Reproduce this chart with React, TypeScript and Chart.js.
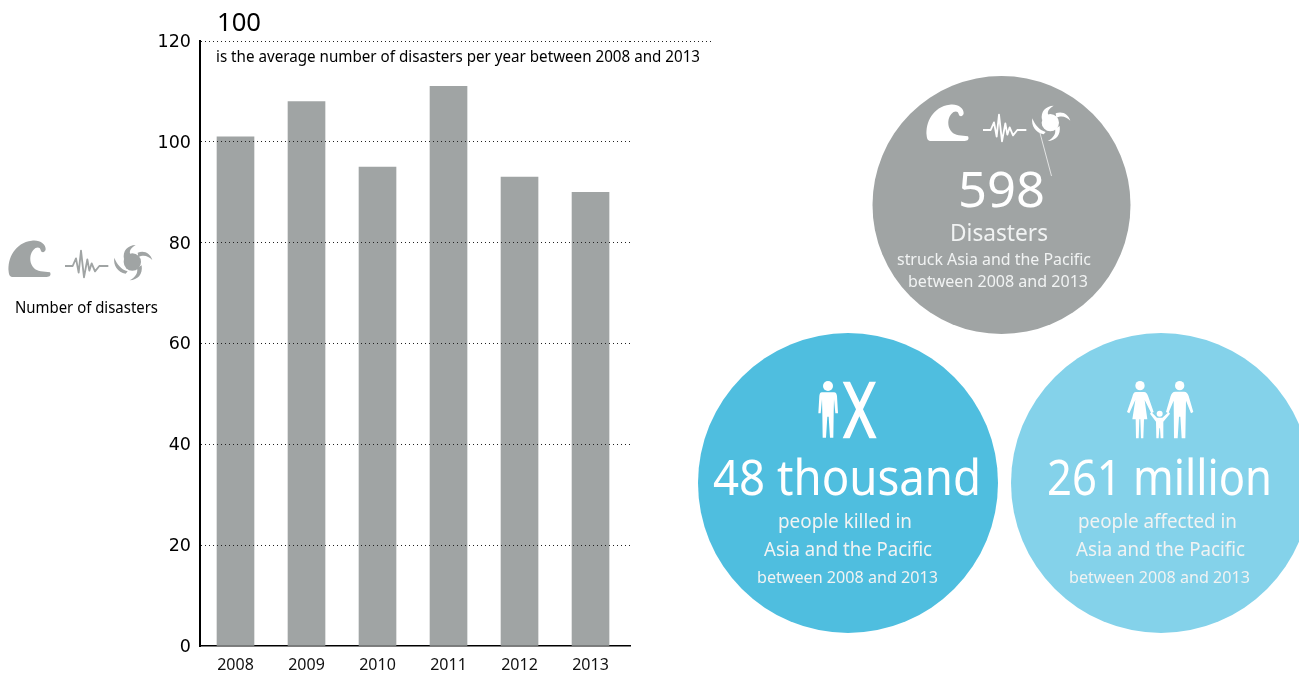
import React, { useEffect, useRef } from "react";
import { Chart, registerables } from "chart.js";

Chart.register(...registerables);

const years = [2008, 2009, 2010, 2011, 2012, 2013];
const disasters = [101, 108, 95, 111, 93, 90];
const yTicks = [0, 20, 40, 60, 80, 100, 120];

const GREY = "#a0a4a4";
const BLUE = "#4fbedf";
const LIGHT_BLUE = "#84d2ea";
const SOFT_WHITE = "#f1f3f3";
const DOT_COLOR = "#222";
const TEXT_FONT = '"Noto Sans"';

type Ctx = CanvasRenderingContext2D;

// Text fitted between two x positions, stretched or squeezed to the width.
function fitted(ctx: Ctx, text: string, left: number, right: number, baseline: number, size: number, color: string) {
  ctx.save();
  ctx.font = `${size}px ${TEXT_FONT}`;
  ctx.fillStyle = color;
  ctx.textAlign = "left";
  ctx.textBaseline = "alphabetic";
  const measured = ctx.measureText(text).width;
  ctx.translate(left, baseline);
  ctx.scale((right - left) / measured, 1);
  ctx.fillText(text, 0, 0);
  ctx.restore();
}

function disc(ctx: Ctx, cx: number, cy: number, r: number, color: string) {
  ctx.beginPath();
  ctx.arc(cx, cy, r, 0, Math.PI * 2);
  ctx.fillStyle = color;
  ctx.fill();
}

// Pictograms are sketched on a grid three times finer than the canvas.
function onGrid(ctx: Ctx, ox: number, oy: number, color: string, paint: () => void) {
  ctx.save();
  ctx.translate(ox, oy);
  ctx.scale(1 / 3, 1 / 3);
  ctx.fillStyle = color;
  ctx.strokeStyle = color;
  paint();
  ctx.restore();
}

function wave(ctx: Ctx) {
  ctx.fill(new Path2D(
    "M26,125 C22,85 45,38 95,32 C118,28 138,42 137,58 C136,68 124,70 122,60 C120,50 108,50 100,60 C84,78 88,118 122,124 L150,127 C154,135 150,141 140,141 L40,141 C30,141 27,135 26,125 Z"
  ));
}

function tremor(ctx: Ctx) {
  ctx.lineWidth = 5.5;
  ctx.lineJoin = "round";
  ctx.stroke(new Path2D(
    "M195,108 L218,108 L228,85 L236,128 L243,62 L252,142 L262,88 L268,122 L275,100 L285,124 L298,108 L325,108"
  ));
}

function cyclone(ctx: Ctx) {
  ctx.save();
  ctx.translate(315, 18);
  ctx.beginPath();
  ctx.arc(82, 78, 26, 0, Math.PI * 2);
  ctx.fill();
  ctx.fill(new Path2D("M92,27 C68,28 52,44 57,70 L78,58 C70,48 76,36 92,27 Z"));
  ctx.fill(new Path2D("M142,72 C136,52 118,42 98,50 L100,64 C115,55 130,60 142,72 Z"));
  ctx.fill(new Path2D("M74,133 C98,132 114,116 110,88 L96,96 C100,112 90,124 74,133 Z"));
  ctx.fill(new Path2D("M28,65 C24,88 38,108 62,113 L68,106 C48,100 36,85 28,65 Z"));
  ctx.restore();
}

function head(ctx: Ctx, x: number, y: number, r: number) {
  ctx.beginPath();
  ctx.arc(x, y, r, 0, Math.PI * 2);
  ctx.fill();
}

function adultFigure(ctx: Ctx) {
  head(ctx, 114, 48, 15);
  ctx.fill(new Path2D(
    "M96,67 L132,67 C138,67 140,72 141,78 L144,130 L136,130 L132,88 L131,132 L130,203 L120,203 L116,140 L112,140 L108,203 L98,203 L97,132 L96,88 L92,130 L85,130 L88,78 C89,72 90,67 96,67 Z"
  ));
}

function crossMark(ctx: Ctx) {
  ctx.fill(new Path2D(
    "M158,35 L180,35 L209,97 L238,35 L258,35 L219,118 L260,205 L238,205 L208,139 L179,205 L158,205 L198,118 Z"
  ));
}

function family(ctx: Ctx) {
  // mother
  head(ctx, 90, 47, 14);
  ctx.fill(new Path2D(
    "M78,66 L102,66 C108,66 112,72 115,80 L131,126 L124,130 L104,90 L112,148 L102,148 L100,205 L93,205 L91,148 L88,148 L86,205 L78,205 L77,148 L67,148 L76,90 L58,130 L51,126 L67,80 C69,72 72,66 78,66 Z"
  ));
  // father
  head(ctx, 209, 47, 14);
  ctx.fill(new Path2D(
    "M196,65 L222,65 C230,65 233,70 236,78 L250,126 L243,130 L228,92 L226,205 L215,205 L211,140 L207,140 L203,205 L192,205 L191,92 L175,130 L168,126 L182,78 C185,70 188,65 196,65 Z"
  ));
  // child, hand in hand
  head(ctx, 149, 131, 9);
  ctx.fill(new Path2D(
    "M141,143 L157,143 L176,126 L180,131 L160,155 L160,205 L152,205 L150,175 L148,175 L146,205 L139,205 L138,155 L120,131 L124,126 Z"
  ));
}

const artwork = {
  id: "artwork",
  afterDraw(chart: Chart) {
    const ctx = chart.ctx;
    const y = chart.scales.y;
    const top = y.getPixelForValue(120);

    // The top gridline runs on under the average note.
    ctx.save();
    ctx.strokeStyle = DOT_COLOR;
    ctx.lineWidth = 1;
    ctx.setLineDash([1, 3]);
    ctx.beginPath();
    ctx.moveTo(630, Math.round(top) + 0.5);
    ctx.lineTo(712, Math.round(top) + 0.5);
    ctx.stroke();
    ctx.restore();

    fitted(ctx, "100", 217, 261, 31, 26, "#000");
    fitted(ctx, "is the average number of disasters per year between 2008 and 2013", 216, 700, 62, 16, "#000");

    // Axis caption with its hazard icons
    onGrid(ctx, 0, 230, GREY, () => {
      wave(ctx);
      tremor(ctx);
      cyclone(ctx);
    });
    fitted(ctx, "Number of disasters", 15, 158, 313, 16, "#000");

    // Total disasters
    disc(ctx, 1001.5, 205, 129, GREY);
    onGrid(ctx, 918, 94, "#fff", () => {
      wave(ctx);
      tremor(ctx);
    });
    onGrid(ctx, 918, 90.7, "#fff", () => cyclone(ctx));
    ctx.save();
    ctx.strokeStyle = "#fff";
    ctx.lineWidth = 0.7;
    ctx.beginPath();
    ctx.moveTo(1040, 133);
    ctx.lineTo(1051.5, 176);
    ctx.stroke();
    ctx.restore();
    fitted(ctx, "598", 958, 1045, 207, 50, "#fff");
    fitted(ctx, "Disasters", 950, 1048, 241, 24, SOFT_WHITE);
    fitted(ctx, "struck Asia and the Pacific", 897, 1091, 265, 16, SOFT_WHITE);
    fitted(ctx, "between 2008 and 2013", 908, 1088, 287, 16, SOFT_WHITE);

    // People killed
    disc(ctx, 848, 483, 150, BLUE);
    onGrid(ctx, 790, 370, "#fff", () => {
      adultFigure(ctx);
      crossMark(ctx);
    });
    fitted(ctx, "48 thousand", 713, 981, 495, 50, "#fff");
    fitted(ctx, "people killed in", 778, 912, 528, 19, SOFT_WHITE);
    fitted(ctx, "Asia and the Pacific", 764, 932, 556, 19, SOFT_WHITE);
    fitted(ctx, "between 2008 and 2013", 757, 938, 583, 16, SOFT_WHITE);

    // People affected
    disc(ctx, 1161, 483, 150, LIGHT_BLUE);
    onGrid(ctx, 1110, 370, "#fff", () => family(ctx));
    fitted(ctx, "261 million", 1047, 1272, 495, 50, "#fff");
    fitted(ctx, "people affected in", 1078, 1237, 528, 19, SOFT_WHITE);
    fitted(ctx, "Asia and the Pacific", 1076, 1245, 556, 19, SOFT_WHITE);
    fitted(ctx, "between 2008 and 2013", 1069, 1250, 583, 16, SOFT_WHITE);
  },
};

export default function App() {
  const ref = useRef<HTMLCanvasElement>(null);

  useEffect(() => {
    const chart = new Chart(ref.current!, {
      type: "bar",
      data: {
        datasets: [
          {
            data: years.map((year, i) => ({ x: year, y: disasters[i] })),
            backgroundColor: GREY,
            borderWidth: 0,
            barThickness: 37,
          },
        ],
      },
      options: {
        responsive: false,
        animation: false,
        events: [],
        layout: { padding: { top: 41, right: 669, bottom: 0, left: 0 } },
        plugins: { legend: { display: false }, tooltip: { enabled: false } },
        scales: {
          x: {
            type: "linear",
            offset: false,
            min: 2007.5,
            max: 2013.556,
            afterBuildTicks: (axis: any) => {
              axis.ticks = years.map((value) => ({ value }));
            },
            afterFit: (axis: any) => {
              axis.height = 28;
            },
            grid: { display: false, drawTicks: false },
            border: { color: "#000", width: 1.5 },
            ticks: {
              autoSkip: false,
              maxRotation: 0,
              padding: 10,
              color: "#111",
              font: { family: TEXT_FONT, size: 16 },
              callback: (value: any) => String(value),
            },
          },
          y: {
            min: 0,
            max: 120,
            afterBuildTicks: (axis: any) => {
              axis.ticks = yTicks.map((value) => ({ value }));
            },
            afterFit: (axis: any) => {
              axis.width = 200;
            },
            grid: {
              z: 1,
              drawTicks: false,
              lineWidth: 1,
              color: (c: any) => (c.tick && c.tick.value === 0 ? "rgba(0,0,0,0)" : DOT_COLOR),
            },
            border: { color: "#000", width: 2, dash: [1, 3], z: 1 },
            ticks: {
              padding: 9,
              color: "#000",
              // A blank first line nudges each number down onto its gridline.
              callback: (value: any) => ["", String(value)],
              font: { family: "DejaVu Sans", size: 17.5, lineHeight: 0.15 },
            },
          },
        },
      },
      plugins: [artwork],
    } as any);
    return () => chart.destroy();
  }, []);

  return (
    <div style={{ position: "absolute", left: 0, top: 0, width: 1299, height: 674, overflow: "hidden", background: "#fff" }}>
      <canvas ref={ref} width={1299} height={674} style={{ display: "block" }} />
    </div>
  );
}
